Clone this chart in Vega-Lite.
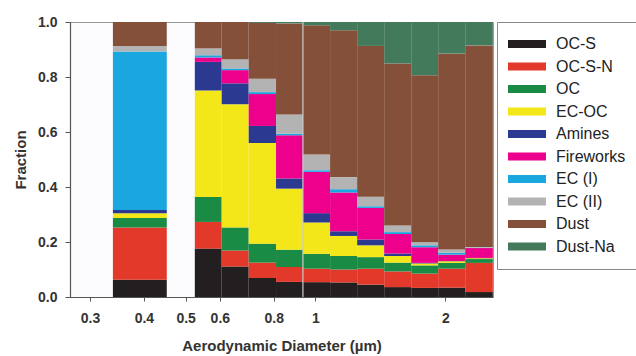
{
  "$schema": "https://vega.github.io/schema/vega-lite/v6.json",
  "autosize": {"type": "none"},
  "padding": {"left": 70, "top": 22, "right": 143, "bottom": 59},
  "width": 423,
  "height": 275,
  "background": "#ffffff",
  "config": {
    "font": "Liberation Sans",
    "view": {"stroke": "#999999", "strokeWidth": 1, "fill": "#fcfcfe"},
    "axis": {"grid": false, "labelFont": "Liberation Sans", "labelFontWeight": "bold", "labelFontSize": 14, "labelColor": "#333333", "titleFont": "Liberation Sans", "titleFontWeight": "bold", "titleFontSize": 15, "titleColor": "#333333", "domainColor": "#555555", "tickColor": "#555555", "domainWidth": 1.2}
  },
  "layer": [
    {
      "data": {"values": [
        {"lo":0.339,"hi":0.452,"type":"OC-S","f":0.063},{"lo":0.339,"hi":0.452,"type":"OC-S-N","f":0.190},{"lo":0.339,"hi":0.452,"type":"OC","f":0.034},{"lo":0.339,"hi":0.452,"type":"EC-OC","f":0.018},{"lo":0.339,"hi":0.452,"type":"Amines","f":0.011},{"lo":0.339,"hi":0.452,"type":"Fireworks","f":0.0},{"lo":0.339,"hi":0.452,"type":"EC (I)","f":0.577},{"lo":0.339,"hi":0.452,"type":"EC (II)","f":0.020},{"lo":0.339,"hi":0.452,"type":"Dust","f":0.087},{"lo":0.339,"hi":0.452,"type":"Dust-Na","f":0.0},
        {"lo":0.525,"hi":0.606,"type":"OC-S","f":0.176},{"lo":0.525,"hi":0.606,"type":"OC-S-N","f":0.097},{"lo":0.525,"hi":0.606,"type":"OC","f":0.091},{"lo":0.525,"hi":0.606,"type":"EC-OC","f":0.387},{"lo":0.525,"hi":0.606,"type":"Amines","f":0.104},{"lo":0.525,"hi":0.606,"type":"Fireworks","f":0.016},{"lo":0.525,"hi":0.606,"type":"EC (I)","f":0.008},{"lo":0.525,"hi":0.606,"type":"EC (II)","f":0.025},{"lo":0.525,"hi":0.606,"type":"Dust","f":0.096},{"lo":0.525,"hi":0.606,"type":"Dust-Na","f":0.0},
        {"lo":0.606,"hi":0.700,"type":"OC-S","f":0.111},{"lo":0.606,"hi":0.700,"type":"OC-S-N","f":0.058},{"lo":0.606,"hi":0.700,"type":"OC","f":0.084},{"lo":0.606,"hi":0.700,"type":"EC-OC","f":0.448},{"lo":0.606,"hi":0.700,"type":"Amines","f":0.076},{"lo":0.606,"hi":0.700,"type":"Fireworks","f":0.048},{"lo":0.606,"hi":0.700,"type":"EC (I)","f":0.006},{"lo":0.606,"hi":0.700,"type":"EC (II)","f":0.034},{"lo":0.606,"hi":0.700,"type":"Dust","f":0.135},{"lo":0.606,"hi":0.700,"type":"Dust-Na","f":0.0},
        {"lo":0.700,"hi":0.810,"type":"OC-S","f":0.069},{"lo":0.700,"hi":0.810,"type":"OC-S-N","f":0.056},{"lo":0.700,"hi":0.810,"type":"OC","f":0.069},{"lo":0.700,"hi":0.810,"type":"EC-OC","f":0.366},{"lo":0.700,"hi":0.810,"type":"Amines","f":0.062},{"lo":0.700,"hi":0.810,"type":"Fireworks","f":0.116},{"lo":0.700,"hi":0.810,"type":"EC (I)","f":0.007},{"lo":0.700,"hi":0.810,"type":"EC (II)","f":0.049},{"lo":0.700,"hi":0.810,"type":"Dust","f":0.203},{"lo":0.700,"hi":0.810,"type":"Dust-Na","f":0.003},
        {"lo":0.810,"hi":0.935,"type":"OC-S","f":0.055},{"lo":0.810,"hi":0.935,"type":"OC-S-N","f":0.054},{"lo":0.810,"hi":0.935,"type":"OC","f":0.063},{"lo":0.810,"hi":0.935,"type":"EC-OC","f":0.222},{"lo":0.810,"hi":0.935,"type":"Amines","f":0.037},{"lo":0.810,"hi":0.935,"type":"Fireworks","f":0.157},{"lo":0.810,"hi":0.935,"type":"EC (I)","f":0.006},{"lo":0.810,"hi":0.935,"type":"EC (II)","f":0.070},{"lo":0.810,"hi":0.935,"type":"Dust","f":0.331},{"lo":0.810,"hi":0.935,"type":"Dust-Na","f":0.005},
        {"lo":0.935,"hi":1.081,"type":"OC-S","f":0.054},{"lo":0.935,"hi":1.081,"type":"OC-S-N","f":0.049},{"lo":0.935,"hi":1.081,"type":"OC","f":0.054},{"lo":0.935,"hi":1.081,"type":"EC-OC","f":0.114},{"lo":0.935,"hi":1.081,"type":"Amines","f":0.034},{"lo":0.935,"hi":1.081,"type":"Fireworks","f":0.150},{"lo":0.935,"hi":1.081,"type":"EC (I)","f":0.006},{"lo":0.935,"hi":1.081,"type":"EC (II)","f":0.057},{"lo":0.935,"hi":1.081,"type":"Dust","f":0.470},{"lo":0.935,"hi":1.081,"type":"Dust-Na","f":0.012},
        {"lo":1.081,"hi":1.249,"type":"OC-S","f":0.053},{"lo":1.081,"hi":1.249,"type":"OC-S-N","f":0.047},{"lo":1.081,"hi":1.249,"type":"OC","f":0.049},{"lo":1.081,"hi":1.249,"type":"EC-OC","f":0.073},{"lo":1.081,"hi":1.249,"type":"Amines","f":0.017},{"lo":1.081,"hi":1.249,"type":"Fireworks","f":0.141},{"lo":1.081,"hi":1.249,"type":"EC (I)","f":0.012},{"lo":1.081,"hi":1.249,"type":"EC (II)","f":0.044},{"lo":1.081,"hi":1.249,"type":"Dust","f":0.534},{"lo":1.081,"hi":1.249,"type":"Dust-Na","f":0.030},
        {"lo":1.249,"hi":1.443,"type":"OC-S","f":0.045},{"lo":1.249,"hi":1.443,"type":"OC-S-N","f":0.058},{"lo":1.249,"hi":1.443,"type":"OC","f":0.042},{"lo":1.249,"hi":1.443,"type":"EC-OC","f":0.043},{"lo":1.249,"hi":1.443,"type":"Amines","f":0.021},{"lo":1.249,"hi":1.443,"type":"Fireworks","f":0.115},{"lo":1.249,"hi":1.443,"type":"EC (I)","f":0.006},{"lo":1.249,"hi":1.443,"type":"EC (II)","f":0.035},{"lo":1.249,"hi":1.443,"type":"Dust","f":0.548},{"lo":1.249,"hi":1.443,"type":"Dust-Na","f":0.087},
        {"lo":1.443,"hi":1.667,"type":"OC-S","f":0.036},{"lo":1.443,"hi":1.667,"type":"OC-S-N","f":0.057},{"lo":1.443,"hi":1.667,"type":"OC","f":0.032},{"lo":1.443,"hi":1.667,"type":"EC-OC","f":0.024},{"lo":1.443,"hi":1.667,"type":"Amines","f":0.009},{"lo":1.443,"hi":1.667,"type":"Fireworks","f":0.071},{"lo":1.443,"hi":1.667,"type":"EC (I)","f":0.007},{"lo":1.443,"hi":1.667,"type":"EC (II)","f":0.024},{"lo":1.443,"hi":1.667,"type":"Dust","f":0.589},{"lo":1.443,"hi":1.667,"type":"Dust-Na","f":0.151},
        {"lo":1.667,"hi":1.925,"type":"OC-S","f":0.033},{"lo":1.667,"hi":1.925,"type":"OC-S-N","f":0.052},{"lo":1.667,"hi":1.925,"type":"OC","f":0.030},{"lo":1.667,"hi":1.925,"type":"EC-OC","f":0.007},{"lo":1.667,"hi":1.925,"type":"Amines","f":0.002},{"lo":1.667,"hi":1.925,"type":"Fireworks","f":0.057},{"lo":1.667,"hi":1.925,"type":"EC (I)","f":0.007},{"lo":1.667,"hi":1.925,"type":"EC (II)","f":0.011},{"lo":1.667,"hi":1.925,"type":"Dust","f":0.607},{"lo":1.667,"hi":1.925,"type":"Dust-Na","f":0.194},
        {"lo":1.925,"hi":2.224,"type":"OC-S","f":0.034},{"lo":1.925,"hi":2.224,"type":"OC-S-N","f":0.069},{"lo":1.925,"hi":2.224,"type":"OC","f":0.021},{"lo":1.925,"hi":2.224,"type":"EC-OC","f":0.006},{"lo":1.925,"hi":2.224,"type":"Amines","f":0.001},{"lo":1.925,"hi":2.224,"type":"Fireworks","f":0.023},{"lo":1.925,"hi":2.224,"type":"EC (I)","f":0.007},{"lo":1.925,"hi":2.224,"type":"EC (II)","f":0.012},{"lo":1.925,"hi":2.224,"type":"Dust","f":0.712},{"lo":1.925,"hi":2.224,"type":"Dust-Na","f":0.115},
        {"lo":2.224,"hi":2.578,"type":"OC-S","f":0.018},{"lo":2.224,"hi":2.578,"type":"OC-S-N","f":0.106},{"lo":2.224,"hi":2.578,"type":"OC","f":0.014},{"lo":2.224,"hi":2.578,"type":"EC-OC","f":0.003},{"lo":2.224,"hi":2.578,"type":"Amines","f":0.001},{"lo":2.224,"hi":2.578,"type":"Fireworks","f":0.036},{"lo":2.224,"hi":2.578,"type":"EC (I)","f":0.001},{"lo":2.224,"hi":2.578,"type":"EC (II)","f":0.003},{"lo":2.224,"hi":2.578,"type":"Dust","f":0.733},{"lo":2.224,"hi":2.578,"type":"Dust-Na","f":0.085}
      ]},
      "transform": [
        {"window": [{"op": "row_number", "as": "k"}], "groupby": ["lo"]},
        {"stack": "f", "groupby": ["lo"], "sort": [{"field": "k", "order": "ascending"}], "as": ["y0", "y1"]}
      ],
      "mark": {"type": "bar", "strokeWidth": 0},
      "encoding": {
        "x": {"field": "lo", "type": "quantitative",
              "scale": {"type": "log", "domain": [0.2696, 2.58], "nice": false, "zero": false},
              "axis": {"values": [0.3, 0.4, 0.5, 0.6, 0.8, 1, 2], "format": "~g", "tickSize": 4, "labelPadding": 10, "title": "Aerodynamic Diameter (µm)", "titlePadding": 13}},
        "x2": {"field": "hi"},
        "y": {"field": "y0", "type": "quantitative",
              "scale": {"domain": [0, 1], "nice": false},
              "axis": {"values": [0, 0.2, 0.4, 0.6, 0.8, 1.0], "format": ".1f", "tickSize": 5, "labelPadding": 8, "title": "Fraction", "titlePadding": 9}},
        "y2": {"field": "y1"},
        "color": {"field": "type", "type": "nominal",
                  "scale": {"domain": ["OC-S", "OC-S-N", "OC", "EC-OC", "Amines", "Fireworks", "EC (I)", "EC (II)", "Dust", "Dust-Na"],
                            "range": ["#231f20", "#e2392a", "#1a8b45", "#f3e619", "#2b3990", "#ec008c", "#1aa7e0", "#b3b3b3", "#85503a", "#447a5c"]},
                  "legend": {"title": null, "orient": "right", "offset": 4, "strokeColor": "#888888", "padding": 14,
                             "symbolType": "M-4.75,-1H4.75V1H-4.75Z", "symbolSize": 64, "symbolOffset": 8, "symbolStrokeWidth": 0,
                             "labelOffset": 21, "labelFontSize": 16, "labelFont": "Liberation Sans", "labelColor": "#222222", "rowPadding": 6.5, "labelLimit": 200}}
      }
    },
    {
      "data": {"values": [{"d": 0.935}]},
      "mark": {"type": "rule", "color": "#c8c8c8", "strokeWidth": 1.5, "opacity": 0.8},
      "encoding": {"x": {"field": "d", "type": "quantitative"}}
    }
  ]
}
